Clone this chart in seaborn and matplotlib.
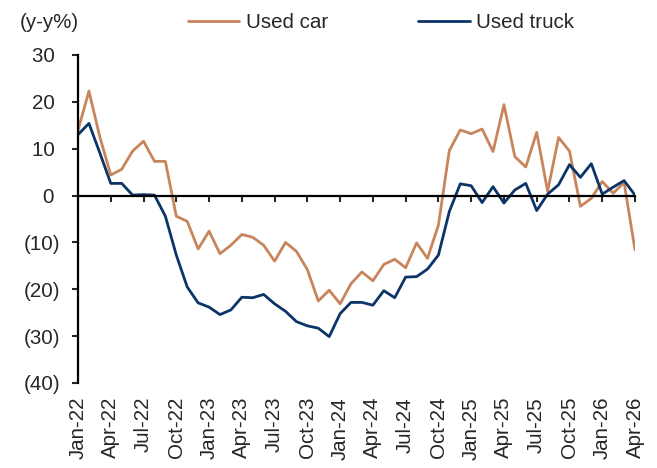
import pandas as pd
import seaborn as sns
import matplotlib.pyplot as plt
from matplotlib.lines import Line2D

# monthly y-y % change, Jan-22 .. Apr-26
months = pd.date_range("2022-01-01", "2026-04-01", freq="MS").strftime("%b-%y").tolist()

used_car = [13.9, 22.3, 12.5, 4.4, 5.6, 9.5, 11.6, 7.3, 7.3, -4.4, -5.5, -11.4,
            -7.6, -12.4, -10.6, -8.3, -8.9, -10.6, -14.0, -10.0, -11.9, -15.8, -22.5, -20.2,
            -23.1, -18.8, -16.3, -18.2, -14.7, -13.6, -15.4, -10.1, -13.4, -6.3, 9.6, 14.0,
            13.2, 14.2, 9.4, 19.4, 8.3, 6.1, 13.5, 0.9, 12.4, 9.5, -2.3, -0.6,
            3.0, 0.5, 2.8, -11.6]

used_truck = [13.0, 15.4, 9.1, 2.6, 2.6, 0.1, 0.2, 0.1, -4.4, -12.7, -19.5, -22.9,
              -23.8, -25.4, -24.4, -21.7, -21.8, -21.1, -23.1, -24.7, -26.9, -27.8, -28.3, -30.1,
              -25.2, -22.8, -22.8, -23.4, -20.3, -21.8, -17.4, -17.3, -15.7, -12.7, -3.4, 2.5,
              2.1, -1.5, 1.9, -1.6, 1.2, 2.6, -3.2, 0.3, 2.3, 6.6, 3.9, 6.8,
              0.3, 1.8, 3.2, 0.1]

series_names = ["Used car", "Used truck"]
colors = {"Used car": "#C8855C", "Used truck": "#0B3467"}

df = pd.DataFrame({
    "idx": list(range(len(months))) * 2,
    "value": used_car + used_truck,
    "series": ["Used car"] * len(months) + ["Used truck"] * len(months),
})

sns.set_style("white")
plt.rcParams["font.family"] = ["Liberation Sans", "DejaVu Sans"]
plt.rcParams["font.size"] = 14.8

fig = plt.figure(figsize=(6.57, 4.68), dpi=100)
ax = fig.add_axes([78 / 657, 85 / 468, 557 / 657, 328 / 468])

sns.lineplot(data=df, x="idx", y="value", hue="series", palette=colors,
             linewidth=2, legend=False, ax=ax)

ax.set_xlim(0, len(months) - 1)
ax.set_ylim(-40, 30)
ax.set_xlabel("")
ax.set_ylabel("")

# y axis: Excel-style (10) for negatives
yticks = list(range(-40, 31, 10))
ax.set_yticks(yticks)
ax.set_yticklabels([f"({abs(v)})" if v < 0 else f"{v} " for v in yticks])
ax.tick_params(axis="y", direction="out", length=4, width=1.5, pad=8.5, left=True)

# x axis sits on zero, labels at the bottom
ax.spines["bottom"].set_position(("data", 0))
xt = list(range(0, len(months), 3))
ax.set_xticks(xt)
ax.tick_params(axis="x", direction="out", length=4, width=1.5, bottom=True, labelbottom=False)
sec = ax.secondary_xaxis("bottom")
sec.set_xticks(xt, [months[i] for i in xt], rotation=90)
sec.tick_params(length=0, pad=10)
sec.spines["bottom"].set_visible(False)

for s in ["top", "right"]:
    ax.spines[s].set_visible(False)
for s in ["left", "bottom"]:
    ax.spines[s].set_color("black")
    ax.spines[s].set_linewidth(1.6)

handles = [Line2D([], [], color=colors[n], linewidth=2) for n in series_names]
fig.legend(handles, series_names, loc="center left", bbox_to_anchor=(188 / 657, 1 - 23 / 468),
           ncol=2, frameon=False, handlelength=2.5, handletextpad=0.3,
           columnspacing=4.4, borderpad=0, borderaxespad=0)
fig.text(20 / 657, 1 - 23 / 468, "(y-y%)", va="center", ha="left")

fig.savefig("out.png", dpi=100, facecolor="white")
